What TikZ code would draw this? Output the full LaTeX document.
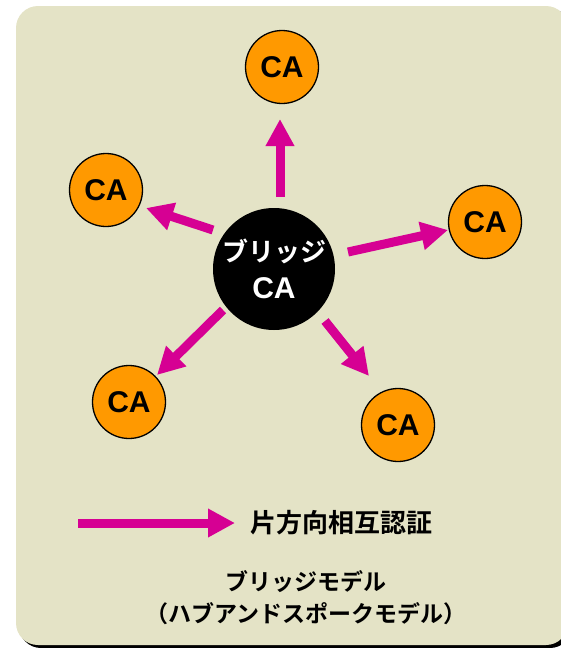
\documentclass[tikz,border=0pt]{standalone}
\usepackage{fontspec}
\setmainfont{Liberation Sans}
\newfontfamily\jp{Noto Sans CJK JP}[BoldFont=* Bold]
\usetikzlibrary{arrows.meta}
\definecolor{bgc}{RGB}{228,227,198}
\definecolor{mag}{RGB}{214,0,147}
\definecolor{org}{RGB}{255,153,0}
\tikzset{
  ca/.style={circle,draw=black,line width=1.3pt,fill=org,minimum size=73pt,inner sep=0pt,
    font=\fontsize{30}{30}\selectfont\bfseries},
  bridge/.style={circle,fill=black,minimum size=122pt,inner sep=0pt,text=white,align=center,
    font=\fontsize{30}{37}\selectfont\bfseries},
  arr/.style={draw=mag,line width=9pt,-{Triangle[length=27pt,width=27pt]}},
  jptext/.style={align=center},
}
\begin{document}
\begin{tikzpicture}[x=1pt,y=-1pt]
\useasboundingbox (0,0) rectangle (561,648);
\clip (0,0) rectangle (561,648);
% background panel with shadow
\fill[black,rounded corners=22pt] (19,9) rectangle (572,648);
\fill[bgc,rounded corners=22pt] (16,6) rectangle (568,645);
% nodes
\node[bridge] (br) at (274,269) {{\jp\bfseries\fontsize{26}{26}\selectfont ブリッジ}\\CA};
\node[ca] (c1) at (282,67) {CA};
\node[ca] (c2) at (106,190) {CA};
\node[ca] (c3) at (485,222) {CA};
\node[ca] (c4) at (129,402) {CA};
\node[ca] (c5) at (398,425) {CA};
% arrow end points
\coordinate (t1) at (280,197); \coordinate (h1) at (280,119);
\coordinate (t2) at (213,230); \coordinate (h2) at (146,208);
\coordinate (t3) at (348,252); \coordinate (h3) at (448,230);
\coordinate (t4) at (223,310); \coordinate (h4) at (157,375);
\coordinate (t5) at (325,321); \coordinate (h5) at (369,376);
\coordinate (lt) at (78,523);  \coordinate (lh) at (235,523);
\draw[arr] (t1) -- (h1);
\draw[arr] (t2) -- (h2);
\draw[arr] (t3) -- (h3);
\draw[arr] (t4) -- (h4);
\draw[arr] (t5) -- (h5);
\draw[arr] (lt) -- (lh);
% legend and caption
\node[jptext,font=\jp\bfseries\fontsize{26}{26}\selectfont] (leg) at (341.5,523) {片方向相互認証};
\node[jptext,font=\jp\bfseries\fontsize{23}{32}\selectfont] (cap) at (306,597.5) {ブリッジモデル\\（ハブアンドスポークモデル）};
\end{tikzpicture}
\end{document}
